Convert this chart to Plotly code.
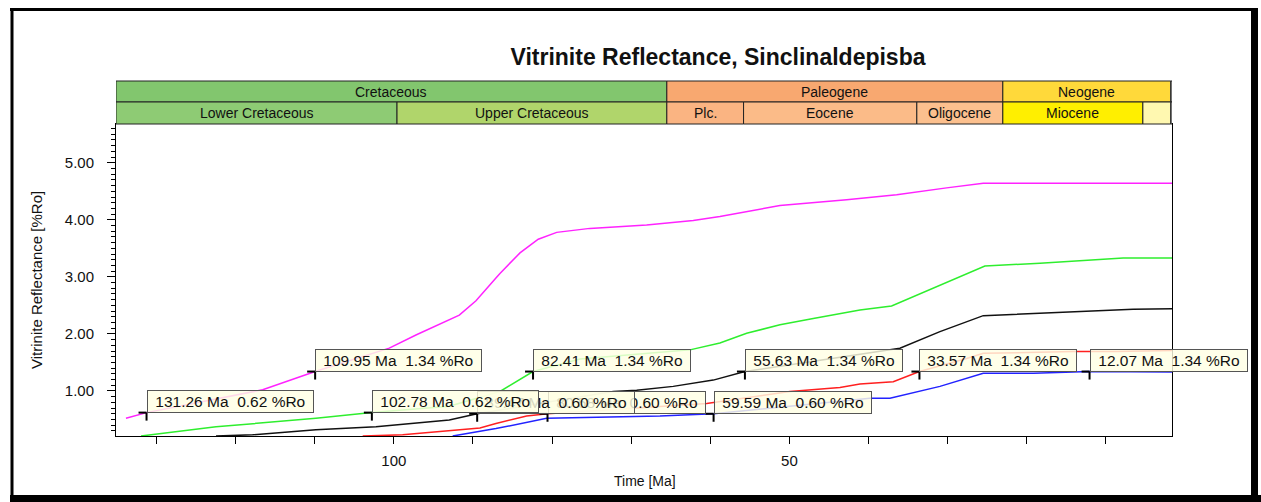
import plotly.graph_objects as go

# ---------------- data ----------------
MAG_MA = [133.86, 131.26, 116.58, 109.95, 100.58, 97.21, 91.73, 89.62, 87.10, 86.59, 84.06, 81.75, 79.42, 75.22, 68.05, 62.16, 58.79, 55.41, 51.20, 42.77, 36.45, 30.14, 25.51, 1.65]
MAG_RO = [0.52, 0.62, 1.02, 1.34, 1.75, 1.98, 2.33, 2.58, 2.98, 3.06, 3.42, 3.66, 3.78, 3.85, 3.91, 3.99, 4.06, 4.15, 4.25, 4.35, 4.44, 4.56, 4.64, 4.64]

GRN_MA = [131.96, 122.48, 109.85, 102.78, 93.00, 86.59, 82.41, 76.48, 62.58, 58.79, 55.41, 51.20, 46.99, 43.62, 41.09, 37.09, 30.98, 25.30, 18.34, 7.82, 1.65]
GRN_RO = [0.21, 0.37, 0.52, 0.62, 0.73, 0.99, 1.34, 1.56, 1.72, 1.84, 2.01, 2.16, 2.27, 2.36, 2.42, 2.49, 2.86, 3.19, 3.24, 3.33, 3.33]

BLK_MA = [122.48, 117.85, 109.85, 102.26, 93.00, 89.47, 80.69, 72.27, 69.31, 64.69, 59.63, 55.63, 36.04, 30.98, 25.51, 20.03, 14.14, 6.56, 1.65]
BLK_RO = [0.21, 0.23, 0.32, 0.37, 0.49, 0.60, 0.80, 0.99, 1.01, 1.08, 1.19, 1.34, 1.75, 2.04, 2.32, 2.35, 2.39, 2.43, 2.44]

RED_MA = [103.94, 98.89, 89.12, 87.10, 83.22, 80.58, 60.47, 51.20, 49.94, 43.62, 41.09, 36.88, 33.57, 27.61, 25.51, 14.14, 8.65, 1.65]
RED_RO = [0.21, 0.23, 0.35, 0.43, 0.56, 0.60, 0.78, 0.96, 0.99, 1.06, 1.12, 1.16, 1.34, 1.57, 1.66, 1.69, 1.69, 1.71]

BLU_MA = [92.57, 87.10, 80.69, 66.37, 59.59, 39.83, 37.30, 30.98, 25.51, 19.19, 12.07, 1.65]
BLU_RO = [0.21, 0.34, 0.52, 0.56, 0.60, 0.87, 0.87, 1.08, 1.31, 1.31, 1.34, 1.33]

# callout labels (drawn in this order: later ones on top)
LABEL_MA = [80.58, 89.47, 131.26, 109.95, 102.78, 82.41, 59.59, 55.63, 33.57, 12.07]
LABEL_RO = [0.60, 0.60, 0.62, 1.34, 0.62, 1.34, 0.60, 1.34, 1.34, 1.34]

# geologic time scale header
ROW1_NAMES = ["Cretaceous", "Paleogene", "Neogene", ""]
ROW1_START = [145.5, 65.5, 23.03, 1.806]
ROW1_END = [65.5, 23.03, 1.806, 0.0]
ROW2_NAMES = ["Lower Cretaceous", "Upper Cretaceous", "Plc.", "Eocene", "Oligocene", "Miocene", "", ""]
ROW2_START = [145.5, 99.6, 65.5, 55.8, 33.9, 23.03, 5.332, 1.806]
ROW2_END = [99.6, 65.5, 55.8, 33.9, 23.03, 5.332, 1.806, 0.0]

X_TICKS = [130, 120, 110, 100, 90, 80, 70, 60, 50, 40, 30, 20, 10]
X_TICK_TEXT = ["", "", "", "100", "", "", "", "", "50", "", "", "", ""]
Y_TICKS = [1, 2, 3, 4, 5]
Y_TICK_TEXT = ["1.00", "2.00", "3.00", "4.00", "5.00"]

X_RANGE = [135.12, 1.65]
Y_RANGE = [0.21, 5.68]

# ---------------- styles ----------------
FONT = "Liberation Sans, Arial, sans-serif"
ROW1_COLORS = ["#82C66E", "#F8A870", "#FFD93A", "#FFFFFF"]
ROW2_COLORS = ["#8ECB74", "#B0D56B", "#FAB482", "#FBBB88", "#FCC08E", "#FFEF00", "#FFF8B0", "#FFFFFF"]

W, H = 1261, 502
L, R, T, B = 116, 1172, 124, 436
PW, PH = R - L, B - T


def px(X):
    return (X - L) / PW


def py(Y):
    return (B - Y) / PH


fig = go.Figure()

series = [
    (MAG_MA, MAG_RO, "#FF22FF"),
    (GRN_MA, GRN_RO, "#2EEE2E"),
    (BLK_MA, BLK_RO, "#111111"),
    (RED_MA, RED_RO, "#FF2020"),
    (BLU_MA, BLU_RO, "#2222FF"),
]
for xs, ys, c in series:
    fig.add_trace(go.Scatter(x=xs, y=ys, mode="lines", line=dict(color=c, width=1.5),
                             showlegend=False, hoverinfo="skip"))

shapes = []
annotations = []

# header
rows = [
    (ROW1_NAMES, ROW1_START, ROW1_END, ROW1_COLORS, py(81), py(102)),
    (ROW2_NAMES, ROW2_START, ROW2_END, ROW2_COLORS, py(102), py(124)),
]
for names, st, en, cols, ytop, ybot in rows:
    for n, s, e, c in zip(names, st, en, cols):
        hi = min(s, X_RANGE[0])
        lo = max(e, X_RANGE[1])
        if hi <= lo:
            continue
        shapes.append(dict(type="rect", xref="x", yref="paper", x0=hi, x1=lo, y0=ybot, y1=ytop,
                           fillcolor=c, line=dict(color="#222222", width=1), layer="above"))
        if n:
            annotations.append(dict(xref="x", yref="paper", x=(hi + lo) / 2, y=(ytop + ybot) / 2,
                                    text=n, showarrow=False, font=dict(family=FONT, size=14, color="#111"),
                                    xanchor="center", yanchor="middle"))

# callouts
for ma, ro in zip(LABEL_MA, LABEL_RO):
    txt = "\u00a0%.2f\u00a0Ma\u00a0\u00a0%.2f\u00a0%%Ro\u00a0" % (ma, ro)
    annotations.append(dict(xref="x", yref="y", x=ma, y=ro, text=txt, showarrow=False,
                            xanchor="left", yanchor="bottom", height=15, borderpad=3,
                            bgcolor="rgba(255,255,228,0.82)", bordercolor="#555555", borderwidth=1,
                            font=dict(family=FONT, size=15.5, color="#111")))
    shapes.append(dict(type="line", xref="x", yref="y", xsizemode="pixel", xanchor=ma,
                       x0=-8, x1=0, y0=ro, y1=ro, line=dict(color="#000", width=2)))
    shapes.append(dict(type="line", xref="x", yref="y", xsizemode="pixel", xanchor=ma,
                       ysizemode="pixel", yanchor=ro, x0=0, x1=0, y0=0, y1=-8,
                       line=dict(color="#000", width=2)))

# axis titles
annotations.append(dict(xref="paper", yref="paper", x=px(645), y=py(481), text="Time [Ma]",
                        showarrow=False, font=dict(family=FONT, size=14, color="#111"),
                        xanchor="center", yanchor="middle"))
annotations.append(dict(xref="paper", yref="paper", x=px(36), y=0.5, text="Vitrinite Reflectance [%Ro]",
                        showarrow=False, textangle=-90, font=dict(family=FONT, size=15, color="#111"),
                        xanchor="center", yanchor="middle"))

# outer frame
shapes += [
    dict(type="line", xref="paper", yref="paper", x0=px(12), x1=px(12), y0=py(8), y1=py(500),
         line=dict(color="#000", width=3)),
    dict(type="line", xref="paper", yref="paper", x0=px(10), x1=px(1258), y0=py(9.5), y1=py(9.5),
         line=dict(color="#000", width=3)),
    dict(type="line", xref="paper", yref="paper", x0=px(1254.5), x1=px(1254.5), y0=py(8), y1=py(502),
         line=dict(color="#000", width=7)),
    dict(type="line", xref="paper", yref="paper", x0=px(10), x1=px(1261), y0=py(498.5), y1=py(498.5),
         line=dict(color="#000", width=7)),
]

fig.update_layout(
    width=W, height=H,
    margin=dict(l=L, r=W - R, t=T, b=H - B, pad=0),
    paper_bgcolor="white", plot_bgcolor="white",
    font=dict(family=FONT, size=15, color="#111"),
    title=dict(text="<b>Vitrinite Reflectance, Sinclinaldepisba</b>", x=px(718), xref="paper",
               y=1 - 57 / H, yref="container", xanchor="center", yanchor="middle",
               font=dict(family=FONT, size=23, color="#111")),
    shapes=shapes, annotations=annotations, showlegend=False,
)
fig.update_xaxes(range=X_RANGE, tickvals=X_TICKS, ticktext=X_TICK_TEXT, ticks="outside", ticklen=7,
                 tickcolor="#000", showgrid=False, zeroline=False, showline=True, linecolor="#000",
                 linewidth=1, mirror=True, ticklabelstandoff=4,
                 tickfont=dict(family=FONT, size=15, color="#111"))
fig.update_yaxes(range=Y_RANGE, tickvals=Y_TICKS, ticktext=Y_TICK_TEXT, ticks="outside", ticklen=8,
                 tickcolor="#000", showgrid=False, zeroline=False, showline=True, linecolor="#000",
                 linewidth=1, mirror=True, ticklabelstandoff=10,
                 tickfont=dict(family=FONT, size=15, color="#111"),
                 minor=dict(dtick=0.1, tick0=0, ticks="outside", ticklen=4, tickcolor="#000", showgrid=False))

fig.write_html("out.html", config={"displayModeBar": False},
               post_script="document.body.style.margin='0px';document.body.style.overflow='hidden';")
